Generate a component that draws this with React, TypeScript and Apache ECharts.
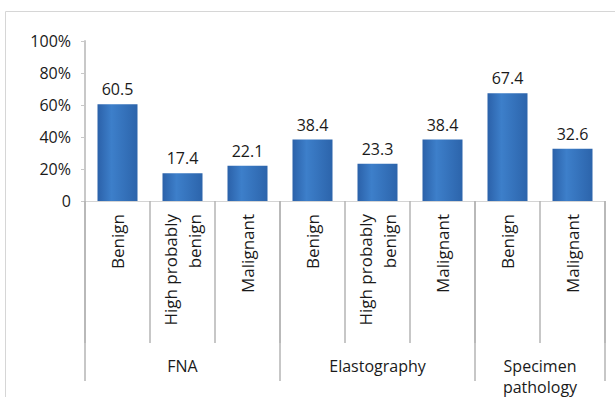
import React, { useEffect, useRef } from "react";
import * as echarts from "echarts";

const categories = [
  "Benign",
  "High probably\nbenign",
  "Malignant",
  "Benign",
  "High probably\nbenign",
  "Malignant",
  "Benign",
  "Malignant",
];
const values = [60.5, 17.4, 22.1, 38.4, 23.3, 38.4, 67.4, 32.6];

// Groups: name, centre position (in category units) and boundaries
const groupNames = ["FNA", "Elastography", "Specimen\npathology"];
const groupCentres = [1.5, 4.5, 7];
const groupBounds = [0, 3, 6, 8];

const yTicks = [0, 20, 40, 60, 80, 100];

const FONT = "'Open Sans', 'Noto Sans', sans-serif";
const TEXT = "#1a1a1a";

export default function App() {
  const ref = useRef<HTMLDivElement>(null);

  useEffect(() => {
    document.body.style.margin = "0";
    if (!ref.current) return;
    const chart = echarts.init(ref.current, null, { renderer: "svg" });

    const barColor = new echarts.graphic.LinearGradient(0, 0, 1, 0, [
      { offset: 0, color: "#2b61a9" },
      { offset: 0.35, color: "#3d7fca" },
      { offset: 1, color: "#2c64ab" },
    ]);

    chart.setOption({
      animation: false,
      backgroundColor: "#ffffff",
      textStyle: { fontFamily: FONT },
      graphic: [
        {
          type: "rect",
          shape: { x: 5.5, y: 11.5, width: 640, height: 420 },
          style: { fill: "none", stroke: "#d6d6d6", lineWidth: 1 },
          silent: true,
        },
      ],
      grid: { left: 85, right: 10, top: 41, bottom: 194 },
      xAxis: [
        {
          type: "category",
          data: categories,
          position: "bottom",
          axisLine: { show: true, lineStyle: { color: "#d4d4d4", width: 1 } },
          axisTick: {
            show: true,
            length: 142,
            lineStyle: { color: "#b4b4b4", width: 1.5 },
          },
          axisLabel: {
            rotate: 90,
            margin: 13,
            fontSize: 17,
            lineHeight: 24,
            color: TEXT,
            fontFamily: FONT,
          },
        },
        {
          type: "value",
          min: 0,
          max: groupBounds[groupBounds.length - 1],
          position: "bottom",
          axisLine: { show: false },
          splitLine: { show: false },
          axisTick: {
            show: true,
            customValues: groupBounds,
            length: 180,
            lineStyle: { color: "#b4b4b4", width: 1.5 },
          },
          axisLabel: {
            customValues: groupCentres,
            margin: 154,
            fontSize: 16,
            lineHeight: 21,
            color: TEXT,
            fontFamily: FONT,
            verticalAlign: "top",
            formatter: (v: number) => {
              const i = groupCentres.indexOf(v);
              return i >= 0 ? groupNames[i] : "";
            },
          },
        },
      ],
      yAxis: {
        type: "value",
        min: yTicks[0],
        max: yTicks[yTicks.length - 1],
        interval: 20,
        axisLine: { show: true, lineStyle: { color: "#c8c8c8", width: 2 } },
        axisTick: { show: true, length: 4, lineStyle: { color: "#c8c8c8" } },
        splitLine: { show: false },
        axisLabel: {
          margin: 14,
          fontSize: 16,
          color: TEXT,
          fontFamily: FONT,
          formatter: (v: number) => (v === 0 ? "0" : `${v}%`),
        },
      },
      series: [
        {
          type: "bar",
          data: values,
          barWidth: 40,
          itemStyle: { color: barColor },
          label: {
            show: true,
            position: "top",
            distance: 7,
            fontSize: 16,
            color: TEXT,
            fontFamily: FONT,
            formatter: (p: any) => p.value.toFixed(1),
          },
        },
      ],
    });

    return () => chart.dispose();
  }, []);

  return <div ref={ref} style={{ width: 615, height: 397 }} />;
}
